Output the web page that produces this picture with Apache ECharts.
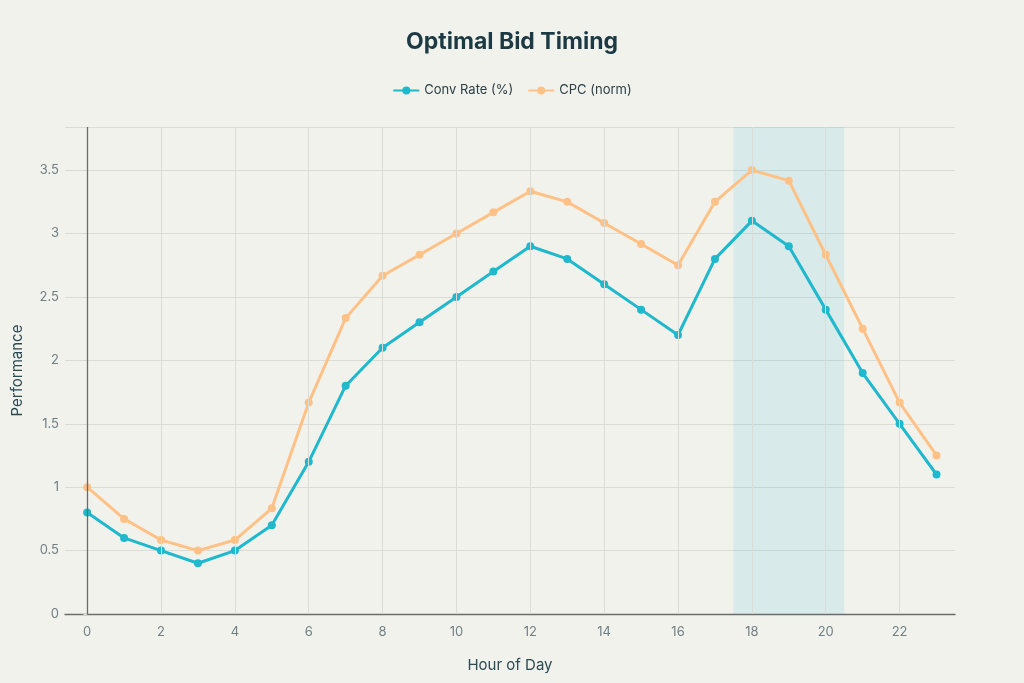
<!DOCTYPE html>
<html>
<head>
<meta charset="utf-8">
<script src="https://cdn.jsdelivr.net/npm/echarts@6/dist/echarts.min.js"></script>
<style>
  html, body { margin: 0; padding: 0; background: #f2f2ed; }
  #chart { width: 1024px; height: 683px; }
</style>
</head>
<body>
<div id="chart"></div>
<script>
// hours 0..23
var hours = [0,1,2,3,4,5,6,7,8,9,10,11,12,13,14,15,16,17,18,19,20,21,22,23]
var convRate = [0.8,0.6,0.5,0.4,0.5,0.7,1.2,1.8,2.1,2.3,2.5,2.7,2.9,2.8,2.6,2.4,2.2,2.8,3.1,2.9,2.4,1.9,1.5,1.1]
var cpcNorm = [1.0,0.75,0.583,0.5,0.583,0.833,1.667,2.333,2.667,2.833,3.0,3.167,3.333,3.25,3.083,2.917,2.75,3.25,3.5,3.417,2.833,2.25,1.667,1.25]
var xTicks = [0,2,4,6,8,10,12,14,16,18,20,22]
var peakWindow = [17.5, 20.5]

function pairs (ys) {
  return hours.map(function (h, i) { return [h, ys[i]] })
}

var chart = echarts.init(document.getElementById('chart'))
var font = 'Inter, "Open Sans", sans-serif'

var option = {
  backgroundColor: '#f2f2ed',
  textStyle: { fontFamily: font },
  title: {
    text: 'Optimal Bid Timing',
    left: 'center',
    top: 26,
    textStyle: { fontSize: 23, fontWeight: 'bold', color: '#1b3a44', fontFamily: font }
  },
  color: ['#1fb8cd', '#ffc185'],
  legend: {
    top: 79,
    left: 'center',
    itemWidth: 26,
    itemHeight: 10,
    itemGap: 14,
    textStyle: { fontSize: 13, color: '#2b3f45' },
    data: ['Conv Rate (%)', 'CPC (norm)']
  },
  grid: { left: 65, right: 69, top: 127, bottom: 69, containLabel: false, outerBoundsMode: 'none' },
  xAxis: {
    type: 'value',
    min: -0.6,
    max: 23.5,
    name: 'Hour of Day',
    nameLocation: 'middle',
    nameGap: 44,
    nameTextStyle: { fontSize: 15, color: '#2b4a52' },
    axisLine: { onZero: false, lineStyle: { color: '#6b6b6b', width: 1.3 } },
    axisTick: { show: false },
    axisLabel: {
      color: '#6f7f84', fontSize: 13, margin: 12,
      customValues: xTicks
    },
    splitLine: { show: false }
  },
  yAxis: {
    type: 'value',
    min: 0,
    max: 3.84,
    interval: 0.5,
    name: 'Performance',
    nameLocation: 'middle',
    nameGap: 40,
    nameTextStyle: { fontSize: 15, color: '#2b4a52' },
    axisLine: { show: false },
    axisTick: { show: true, length: 4, lineStyle: { color: '#d6d6d0' } },
    axisLabel: {
      color: '#6f7f84', fontSize: 13, margin: 6,
      showMaxLabel: false,
      formatter: function (v) { return v > 3.6 ? '' : String(v) }
    },
    splitLine: { lineStyle: { color: '#dcdcd6', width: 1 } }
  },
  series: [
    {
      name: 'Conv Rate (%)',
      type: 'line',
      data: pairs(convRate),
      symbol: 'circle',
      symbolSize: 8,
      itemStyle: { borderWidth: 0 },
      lineStyle: { width: 3 },
      z: 4,
      markArea: {
        silent: true,
        itemStyle: { color: 'rgba(31,184,205,0.12)' },
        data: [[{ xAxis: peakWindow[0] }, { xAxis: peakWindow[1] }]]
      },
      markLine: {
        silent: true,
        symbol: 'none',
        label: { show: false },
        lineStyle: { color: '#6b6b6b', width: 1.3, type: 'solid' },
        data: [{ xAxis: 0 }]
      }
    },
    {
      name: 'CPC (norm)',
      type: 'line',
      data: pairs(cpcNorm),
      symbol: 'circle',
      symbolSize: 8,
      itemStyle: { borderWidth: 0 },
      lineStyle: { width: 3 },
      z: 3
    },
    {
      // vertical grid lines at the labelled hours
      type: 'line',
      data: [],
      z: 1,
      markLine: {
        silent: true,
        symbol: 'none',
        label: { show: false },
        lineStyle: { color: '#dcdcd6', width: 1, type: 'solid' },
        data: xTicks.slice(1).map(function (h) { return { xAxis: h } })
      }
    }
  ]
}

chart.setOption(option)
</script>
</body>
</html>
